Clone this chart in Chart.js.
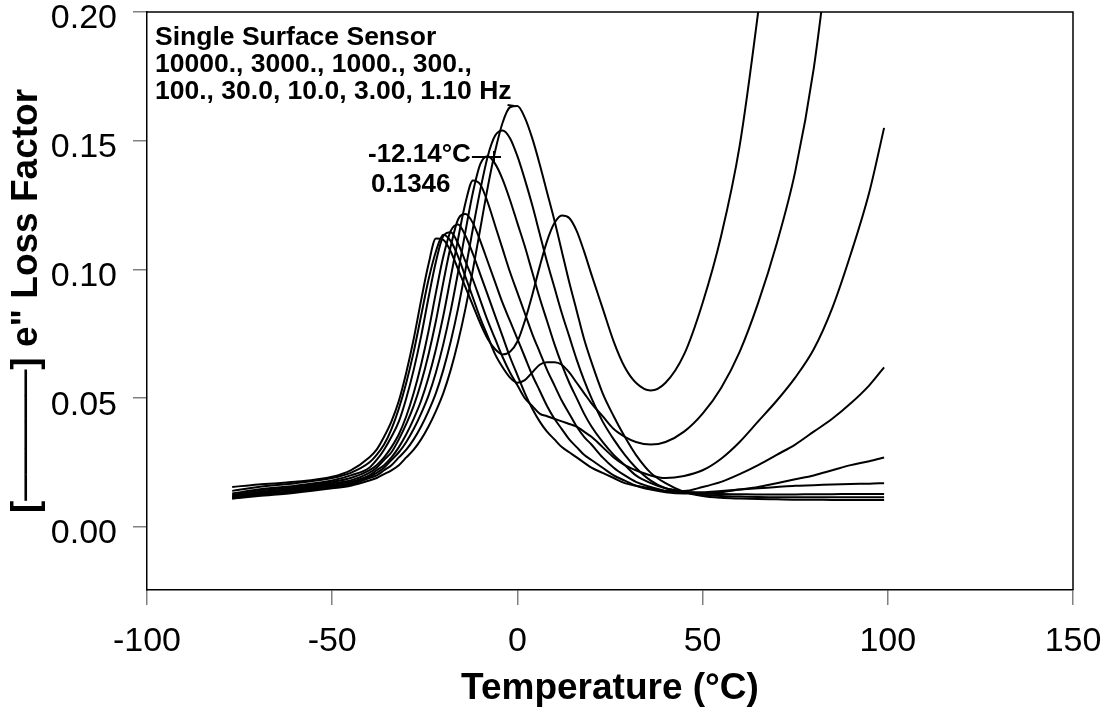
<!DOCTYPE html>
<html>
<head>
<meta charset="utf-8">
<script src="https://cdn.jsdelivr.net/npm/chart.js@4.4.1/dist/chart.umd.min.js"></script>
<style>
  html, body { margin: 0; padding: 0; background: #fff; }
  #wrap { width: 1109px; height: 709px; }
</style>
</head>
<body>
<div id="wrap"><canvas id="c" width="1109" height="709"></canvas></div>
<script>
// Temperature grid (°C)
const temps = [-77,-70,-60,-50,-45,
  -40,-38,-36,-34,-32,-30,-28,-26,-24,-22,
  -20,-18,-16,-14,-12,-10,-8,-6,-4,-2,
  0,2,4,6,8,10,12,14,16,18,20,
  23,26,29,32,36,40,45,50,55,60,65,70,75,80,85,90,95,99];

// e" loss factor per frequency
const f1_10 = [0.0155,0.0165,0.0175,0.0195,0.022,
  0.027,0.030,0.035,0.041,0.049,0.060,0.073,0.088,0.102,0.112,
  0.1115,0.107,0.100,0.093,0.086,0.079,0.073,0.069,0.067,0.068,
  0.072,0.080,0.090,0.101,0.111,0.118,0.121,0.120,0.115,0.107,0.098,
  0.085,0.072,0.062,0.056,0.053,0.056,0.067,0.087,0.113,0.148,0.200,0.26,null,null,null,null,null,null];
const f3_00 = [0.014,0.0155,0.017,0.019,0.021,
  0.025,0.028,0.032,0.038,0.046,0.056,0.068,0.082,0.096,0.107,
  0.1135,0.111,0.105,0.097,0.089,0.081,0.074,0.067,0.062,0.058,
  0.056,0.057,0.060,0.063,0.064,0.064,0.063,0.060,0.056,0.052,0.048,
  0.043,0.038,0.035,0.033,0.032,0.033,0.037,0.044,0.054,0.068,0.087,0.110,0.138,0.178,0.235,null,null,null];
const f10_0 = [0.013,0.0145,0.016,0.018,0.020,
  0.023,0.026,0.030,0.035,0.041,0.050,0.061,0.074,0.089,0.103,
  0.113,0.1145,0.110,0.103,0.096,0.088,0.080,0.073,0.066,0.060,
  0.055,0.050,0.047,0.044,0.043,0.042,0.041,0.040,0.039,0.037,0.035,
  0.031,0.027,0.024,0.022,0.020,0.019,0.0198,0.022,0.0265,0.033,0.041,0.049,0.058,0.069,0.085,0.106,0.130,0.155];
const f30_0 = [0.0125,0.014,0.0155,0.0175,0.019,
  0.022,0.024,0.027,0.031,0.036,0.043,0.052,0.063,0.076,0.091,
  0.105,0.115,0.1175,0.113,0.106,0.098,0.090,0.082,0.074,0.066,
  0.059,0.052,0.046,0.041,0.037,0.034,0.031,0.029,0.027,0.025,0.023,
  0.021,0.019,0.017,0.016,0.015,0.014,0.014,0.0155,0.0175,0.0205,0.024,0.028,0.032,0.037,0.042,0.048,0.055,0.062];
const f100 = [0.012,0.0135,0.015,0.017,0.018,
  0.021,0.023,0.026,0.029,0.034,0.040,0.047,0.056,0.067,0.080,
  0.095,0.109,0.1195,0.1215,0.118,0.111,0.103,0.095,0.087,0.080,
  0.073,0.066,0.059,0.053,0.047,0.042,0.038,0.034,0.031,0.028,0.026,
  0.023,0.020,0.018,0.016,0.0145,0.0135,0.013,0.013,0.0135,0.0145,0.0155,0.017,0.0185,0.020,0.022,0.024,0.0255,0.027];
const f300 = [0.0115,0.013,0.0145,0.0165,0.0175,
  0.020,0.022,0.024,0.027,0.031,0.036,0.042,0.049,0.058,0.069,
  0.082,0.097,0.112,0.126,0.1346,0.133,0.126,0.117,0.108,0.099,
  0.091,0.083,0.075,0.068,0.061,0.055,0.049,0.044,0.039,0.035,0.032,
  0.027,0.023,0.020,0.0175,0.0155,0.014,0.0135,0.0135,0.014,0.0145,0.015,0.0155,0.016,0.0162,0.0165,0.0167,0.0168,0.017];
const f1000 = [0.011,0.0125,0.014,0.016,0.017,
  0.0195,0.021,0.023,0.026,0.029,0.033,0.038,0.044,0.051,0.060,
  0.071,0.084,0.099,0.115,0.130,0.141,0.144,0.141,0.135,0.127,
  0.118,0.109,0.099,0.089,0.080,0.071,0.063,0.056,0.050,0.044,0.039,
  0.033,0.028,0.024,0.020,0.017,0.015,0.0138,0.013,0.0128,0.0127,0.0126,0.0126,0.0126,0.0127,0.0127,0.0128,0.0128,0.0128];
const f3000 = [0.0115,0.0125,0.0138,0.0155,0.0165,
  0.019,0.020,0.022,0.024,0.027,0.030,0.034,0.039,0.045,0.052,
  0.061,0.072,0.085,0.100,0.116,0.131,0.144,0.152,0.154,0.151,
  0.144,0.135,0.125,0.114,0.103,0.093,0.083,0.074,0.065,0.057,0.050,
  0.041,0.034,0.028,0.023,0.018,0.015,0.0135,0.0125,0.012,0.0118,0.0116,0.0115,0.0115,0.0115,0.0115,0.0115,0.0115,0.0115];
const f10000 = [0.011,0.012,0.0133,0.015,0.016,
  0.018,0.019,0.0205,0.022,0.024,0.027,0.030,0.034,0.039,0.045,
  0.052,0.061,0.072,0.085,0.100,0.116,0.132,0.146,0.157,0.163,
  0.1635,0.159,0.151,0.141,0.130,0.119,0.107,0.095,0.084,0.073,0.064,
  0.052,0.043,0.035,0.028,0.021,0.017,0.0136,0.012,0.0113,0.011,0.0108,0.0107,0.0106,0.0106,0.0105,0.0105,0.0105,0.0105];

const seriesNames = ['10000 Hz','3000 Hz','1000 Hz','300 Hz','100 Hz','30.0 Hz','10.0 Hz','3.00 Hz','1.10 Hz'];
const seriesValues = [f10000, f3000, f1000, f300, f100, f30_0, f10_0, f3_00, f1_10];

const xTicks = [-100, -50, 0, 50, 100, 150];
const yTicks = [0.00, 0.05, 0.10, 0.15, 0.20];

const noteLines = ['Single Surface Sensor', '10000., 3000., 1000., 300.,', '100., 30.0, 10.0, 3.00, 1.10 Hz'];
const peakNote = ['-12.14°C', '0.1346'];

const FONT = "Arial, 'Liberation Sans', Helvetica, sans-serif";

const datasets = seriesValues.map((vals, k) => ({
  label: seriesNames[k],
  data: temps.map((t, i) => ({ x: t, y: vals[i] })),
  borderColor: '#000',
  borderWidth: 2,
  pointRadius: 0,
  fill: false,
  cubicInterpolationMode: 'monotone',
  spanGaps: false
}));

const framePlugin = {
  id: 'frameAndNotes',
  afterDraw(chart) {
    const { ctx, chartArea: a, scales } = chart;
    ctx.save();
    // top and right frame lines
    ctx.strokeStyle = '#000';
    ctx.lineWidth = 1.5;
    ctx.beginPath();
    ctx.moveTo(a.left, a.top);
    ctx.lineTo(a.right, a.top);
    ctx.lineTo(a.right, a.bottom);
    ctx.stroke();
    // notes
    ctx.fillStyle = '#000';
    ctx.font = "bold 26.5px " + FONT;
    ctx.textBaseline = 'alphabetic';
    ctx.textAlign = 'left';
    const x0 = a.left + 8;
    ctx.fillText(noteLines[0], x0, a.top + 33);
    ctx.fillText(noteLines[1], x0, a.top + 60);
    ctx.fillText(noteLines[2], x0, a.top + 87);
    const w2 = ctx.measureText(noteLines[2]).width;
    // leader from "Hz" to highest peak
    const px = scales.x.getPixelForValue(-0.8), py = scales.y.getPixelForValue(0.1635);
    ctx.lineWidth = 2;
    ctx.beginPath();
    ctx.moveTo(x0 + w2 - 4, a.top + 93);
    ctx.lineTo(px, py);
    ctx.stroke();
    // peak annotation
    ctx.font = "bold 26px " + FONT;
    ctx.fillText(peakNote[0], 368, 162);
    ctx.fillText(peakNote[1], 371, 192);
    const w3 = ctx.measureText(peakNote[0]).width;
    ctx.beginPath();
    ctx.moveTo(368 + w3 + 1, 157);
    ctx.lineTo(501, 157);
    ctx.moveTo(494, 151);
    ctx.lineTo(494, 163);
    ctx.stroke();
    ctx.restore();
  }
};

new Chart(document.getElementById('c'), {
  type: 'line',
  data: { datasets },
  plugins: [framePlugin],
  options: {
    responsive: false,
    animation: false,
    devicePixelRatio: 1,
    layout: { padding: { top: 12, right: 36, left: 0, bottom: 0 } },
    plugins: { legend: { display: false }, tooltip: { enabled: false } },
    scales: {
      x: {
        type: 'linear',
        min: -100, max: 150,
        afterBuildTicks: s => { s.ticks = xTicks.map(v => ({ value: v })); },
        afterFit: s => { s.height = 119; s.paddingLeft = 0; s.paddingRight = 0; },
        ticks: { color: '#000', font: { family: FONT, size: 34 }, padding: 16, maxRotation: 0, autoSkip: false,
                 callback: v => String(v) },
        grid: { drawOnChartArea: false, drawTicks: true, tickLength: 15, color: '#808080', lineWidth: 1.5 },
        border: { display: true, color: '#000', width: 1.5 },
        title: { display: true, text: 'Temperature (°C)', color: '#000',
                 font: { family: FONT, size: 37, weight: 'bold', lineHeight: 1.0 }, padding: { top: 0, bottom: 2 } }
      },
      y: {
        type: 'linear',
        min: -0.0245, max: 0.2,
        afterBuildTicks: s => { s.ticks = yTicks.map(v => ({ value: v })); },
        afterFit: s => { s.width = 147; s.paddingTop = 0; s.paddingBottom = 0; },
        ticks: { color: '#000', font: { family: FONT, size: 34 }, padding: 16, labelOffset: 7,
                 callback: v => Number(v).toFixed(2) },
        grid: { drawOnChartArea: false, drawTicks: true, tickLength: 14, color: '#808080', lineWidth: 1.5 },
        border: { display: true, color: '#000', width: 1.5 },
        title: { display: true, text: '[─────] e" Loss Factor', color: '#000',
                 font: { family: FONT, size: 37, weight: 'bold', lineHeight: 1.0 }, padding: { top: 8, bottom: 0 } }
      }
    }
  }
});
</script>
</body>
</html>
